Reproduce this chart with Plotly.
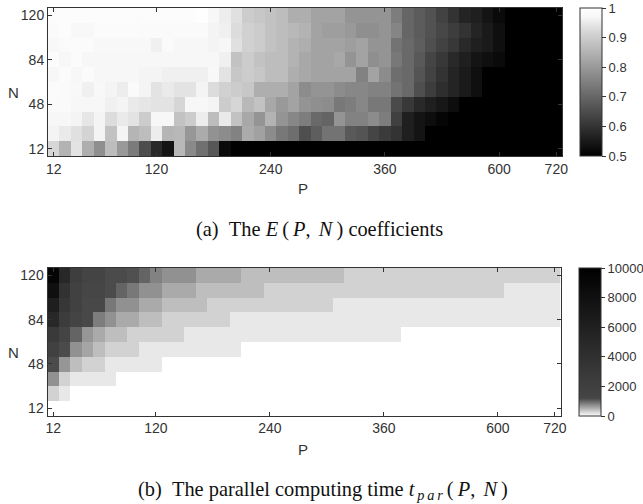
import plotly.graph_objects as go

P = [12,24,36,48,60,72,84,96,108,120,132,144,156,168,180,192,204,216,228,240,252,264,276,288,300,312,324,336,348,360,
     384,408,432,456,480,504,528,552,576,600,624,648,672,696,720]
N = [12,24,36,48,60,72,84,96,108,120]
P_TICKS = ["12","120","240","360","600","720"]
N_TICKS = ["12","48","84","120"]

E_12 = [.92,.85,.94,.84,.78,.87,.80,.74,.65,.58,.54,.86,.77,.72,.67,.52,.5,.5,.5,.5,.5,.5,.5,.5,.5,.5,.5,.5,.5,.5,.5,.5,.5,.5,.5,.5,.5,.5,.5,.5,.5,.5,.5,.5,.5]
E_24 = [.965,.95,.935,.915,.965,.88,.965,.855,.87,.955,.855,.86,.795,.835,.785,.775,.755,.835,.815,.775,.735,.715,.655,.685,.725,.725,.675,.665,.635,.615,.60,.56,.54,.5,.5,.5,.5,.5,.5,.5,.5,.5,.5,.5,.5]
E_36 = [.97,.97,.965,.945,.965,.93,.95,.94,.90,.97,.97,.88,.90,.955,.87,.95,.88,.83,.79,.85,.79,.765,.745,.705,.695,.79,.755,.755,.775,.745,.625,.56,.54,.525,.51,.5,.5,.5,.5,.5,.5,.5,.5,.5,.5]
E_48 = [.98,.98,.97,.97,.97,.96,.965,.95,.945,.94,.94,.92,.97,.97,.965,.90,.92,.86,.88,.83,.80,.82,.79,.78,.775,.735,.745,.765,.735,.735,.645,.61,.58,.56,.545,.525,.5,.5,.5,.5,.5,.5,.5,.5,.5]
E_60 = [.985,.98,.975,.96,.975,.965,.955,.98,.965,.94,.95,.94,.94,.965,.93,.91,.90,.89,.84,.84,.84,.82,.775,.79,.79,.775,.765,.765,.755,.755,.725,.705,.655,.62,.59,.57,.55,.53,.5,.5,.5,.5,.5,.5,.5]
E_72 = [.97,.985,.97,.985,.97,.97,.97,.97,.965,.965,.96,.96,.96,.96,.975,.94,.89,.90,.89,.87,.87,.84,.83,.82,.82,.82,.82,.755,.82,.775,.715,.705,.665,.63,.60,.57,.55,.53,.5,.5,.5,.5,.5,.5,.5]
E_84 = [.99,.97,.985,.97,.97,.97,.97,.97,.97,.97,.97,.97,.97,.97,.97,.96,.88,.90,.88,.87,.87,.85,.83,.82,.82,.83,.79,.82,.78,.79,.735,.705,.675,.635,.61,.58,.56,.54,.53,.52,.5,.5,.5,.5,.5]
E_96 = [.975,.98,.985,.985,.975,.975,.975,.975,.975,.96,.98,.97,.97,.97,.965,.97,.935,.91,.90,.88,.87,.85,.84,.82,.82,.82,.81,.82,.79,.79,.725,.705,.685,.655,.63,.61,.58,.56,.55,.53,.5,.5,.5,.5,.5]
E_108 = [.98,.99,.975,.975,.985,.985,.985,.985,.98,.98,.98,.98,.98,.98,.965,.96,.93,.91,.90,.88,.87,.86,.85,.82,.81,.81,.80,.78,.78,.79,.76,.70,.68,.66,.64,.62,.60,.57,.55,.53,.5,.5,.5,.5,.5]
E_120 = [.99,.99,.99,.99,.99,.99,.99,.99,.99,.99,.99,.99,.99,.995,.97,.955,.935,.90,.89,.88,.87,.84,.84,.82,.82,.82,.79,.79,.79,.79,.745,.70,.68,.66,.63,.60,.57,.56,.54,.52,.5,.5,.5,.5,.5]
E_ROWS = [E_12,E_24,E_36,E_48,E_60,E_72,E_84,E_96,E_108,E_120]

T_12 = [0,0,0,0,0,0,0,0,0,0,0,0,0,0,0,0,0,0,0,0,0,0,0,0,0,0,0,0,0,0,0,0,0,0,0,0,0,0,0,0,0,0,0,0,0]
T_24 = [290,150,0,0,0,0,0,0,0,0,0,0,0,0,0,0,0,0,0,0,0,0,0,0,0,0,0,0,0,0,0,0,0,0,0,0,0,0,0,0,0,0,0,0,0]
T_36 = [715,290,150,150,150,150,0,0,0,0,0,0,0,0,0,0,0,0,0,0,0,0,0,0,0,0,0,0,0,0,0,0,0,0,0,0,0,0,0,0,0,0,0,0,0]
T_48 = [1170,680,420,290,290,150,150,150,150,150,0,0,0,0,0,0,0,0,0,0,0,0,0,0,0,0,0,0,0,0,0,0,0,0,0,0,0,0,0,0,0,0,0,0,0]
T_60 = [1830,1170,715,585,420,290,290,290,150,150,150,150,150,150,150,150,150,0,0,0,0,0,0,0,0,0,0,0,0,0,0,0,0,0,0,0,0,0,0,0,0,0,0,0,0]
T_72 = [2700,1450,1005,680,550,420,420,290,290,290,290,290,150,150,150,150,150,150,150,150,150,150,150,150,150,150,150,150,150,150,150,0,0,0,0,0,0,0,0,0,0,0,0,0,0]
T_84 = [4970,2450,1450,1190,845,715,550,550,420,420,290,290,290,290,290,290,150,150,150,150,150,150,150,150,150,150,150,150,150,150,150,150,150,150,150,150,150,150,150,150,150,150,150,150,150]
T_96 = [6230,3090,1830,1190,1190,875,715,715,550,550,420,420,420,420,290,290,290,290,290,290,290,290,290,290,290,150,150,150,150,150,150,150,150,150,150,150,150,150,150,150,150,150,150,150,150]
T_108 = [8110,3710,1830,1200,1200,1170,1005,875,715,715,550,550,550,420,420,420,420,420,420,290,290,290,290,290,290,290,290,290,290,290,290,290,290,290,290,290,290,290,290,290,150,150,150,150,150]
T_120 = [9370,4970,2200,1450,1450,1170,1170,1135,1005,810,715,715,715,550,550,550,550,420,420,420,420,420,420,420,420,420,290,290,290,290,290,290,290,290,290,290,290,290,290,290,290,290,290,290,290]
T_ROWS = [T_12,T_24,T_36,T_48,T_60,T_72,T_84,T_96,T_108,T_120]

W, H = 643, 504
px = lambda v: v / W
py = lambda v: 1 - v / H
AXIS_TICK_FONT = dict(family="Liberation Sans", size=14, color="#333333")
CBAR_TICK_FONT = dict(family="Liberation Sans", size=13, color="#333333")

fig = go.Figure()
fig.add_trace(go.Heatmap(x=[str(p) for p in P], y=[str(n) for n in N], z=E_ROWS, coloraxis="coloraxis", xaxis="x", yaxis="y"))
fig.add_trace(go.Heatmap(x=[str(p) for p in P], y=[str(n) for n in N], z=T_ROWS, coloraxis="coloraxis2", xaxis="x2", yaxis="y2"))

def axis(domain, anchor, ticks):
    return dict(type="category", domain=domain, anchor=anchor, tickmode="array", tickvals=ticks, ticktext=ticks,
                ticks="inside", ticklen=4, tickcolor="#333333", tickwidth=1, showline=True, linecolor="#333333",
                linewidth=1, mirror="ticks", showgrid=False, zeroline=False, tickfont=AXIS_TICK_FONT)

def cbar(x, ytop, ybot, vals, texts):
    return dict(x=px(x), xanchor="left", xpad=0, ypad=0, y=py(ybot), yanchor="bottom",
                lenmode="pixels", len=ybot - ytop, thicknessmode="pixels", thickness=22,
                tickmode="array", tickvals=vals, ticktext=texts, ticks="outside", ticklen=4, tickcolor="#333333",
                outlinecolor="#333333", outlinewidth=1, tickfont=CBAR_TICK_FONT)

GRAY_E = [[0, "rgb(0,0,0)"], [0.85, "rgb(217,217,217)"], [0.94, "rgb(247,247,247)"], [1, "rgb(255,255,255)"]]
GRAY_T = [[0, "rgb(255,255,255)"], [0.12, "rgb(70,70,70)"], [1, "rgb(0,0,0)"]]

fig.update_layout(
    width=W, height=H, margin=dict(l=0, r=0, t=0, b=0, autoexpand=False), paper_bgcolor="white", plot_bgcolor="white",
    xaxis=axis([px(48), px(562)], "y", P_TICKS),
    yaxis=axis([py(156), py(8)], "x", N_TICKS),
    xaxis2=axis([px(47.5), px(560.5)], "y2", P_TICKS),
    yaxis2=axis([py(415.5), py(268)], "x2", N_TICKS),
    coloraxis=dict(cmin=0.5, cmax=1, colorscale=GRAY_E,
                   colorbar=cbar(579.5, 8, 156, [0.5, 0.6, 0.7, 0.8, 0.9, 1], ["0.5", "0.6", "0.7", "0.8", "0.9", "1"])),
    coloraxis2=dict(cmin=0, cmax=10000, colorscale=GRAY_T,
                    colorbar=cbar(578.5, 268, 416, [0, 2000, 4000, 6000, 8000, 10000], ["0", "2000", "4000", "6000", "8000", "10000"])),
)

def label(x, y, text, font):
    fig.add_annotation(x=px(x), y=py(y), xref="paper", yref="paper", text=text, showarrow=False,
                       xanchor="center", yanchor="middle", font=font)

AX_FONT = dict(family="Liberation Sans", size=15, color="#333333")
CAP_FONT = dict(family="Liberation Serif", size=20.4, color="#111111")
THIN = "\u2009"
label(303, 188, "P", AX_FONT)
label(13, 92, "N", AX_FONT)
label(303, 449, "P", AX_FONT)
label(13, 352, "N", AX_FONT)
label(319, 230, f"(a)\u00a0\u00a0The <i>E</i>{THIN}({THIN}<i>P</i>,{THIN}{THIN}<i>N</i>{THIN}) coefficients", CAP_FONT)
label(322.5, 490, f"(b)\u00a0\u00a0The parallel computing time <i>t<sub>{THIN}p{THIN}a{THIN}r</sub></i>{THIN}({THIN}<i>P</i>,{THIN}{THIN}<i>N</i>{THIN})", CAP_FONT)

fig.add_shape(type="line", xref="paper", yref="paper", x0=px(580), y0=py(150), x1=px(600), y1=py(14),
              line=dict(color="rgba(255,255,255,0.45)", width=1))
fig.add_shape(type="line", xref="paper", yref="paper", x0=px(581), y0=py(400), x1=px(600), y1=py(272),
              line=dict(color="rgba(255,255,255,0.45)", width=1))

fig.write_html("out.html", config=dict(displayModeBar=False), post_script="document.body.style.margin='0';")
